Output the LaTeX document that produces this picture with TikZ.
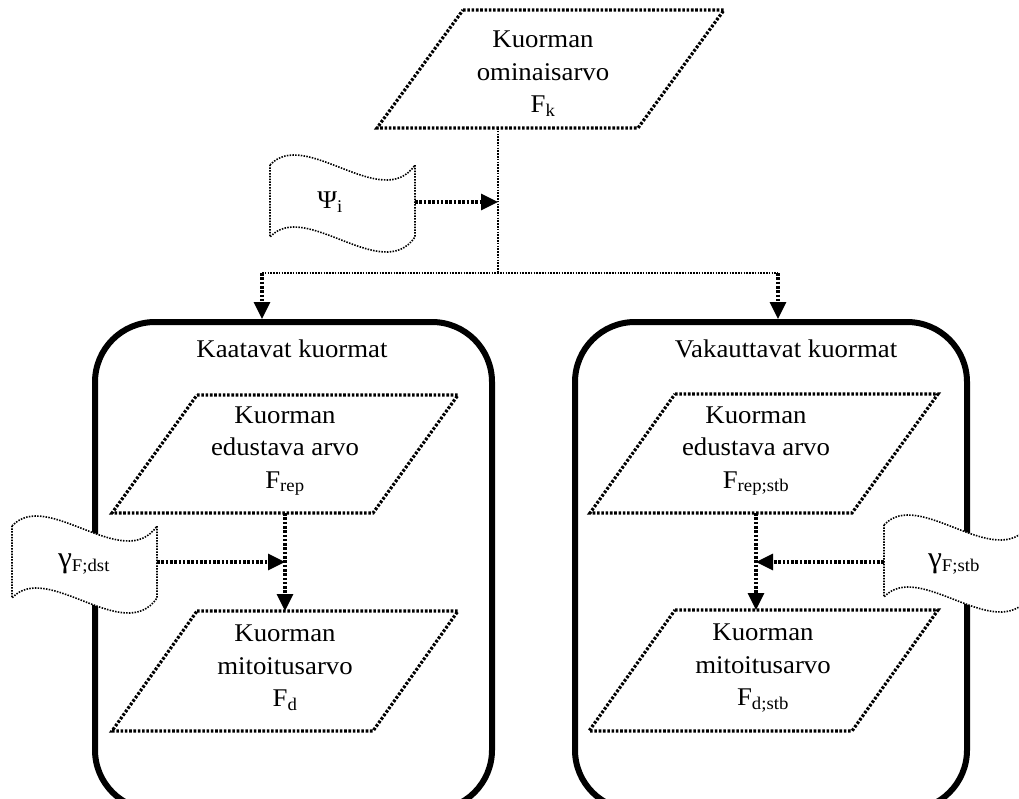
\documentclass[tikz,border=0pt]{standalone}
\usepackage{fontspec}
\setmainfont{Liberation Serif}[FakeStretch=1.05]
\usetikzlibrary{arrows.meta}
\tikzset{
  thickdot/.style={line width=3.2pt, dash pattern=on 2.6pt off 1.7pt},
  thindot/.style={line width=1.6pt, dash pattern=on 1.5pt off 1.3pt},
  flow/.style={thickdot, -{Triangle[length=17pt,width=16pt]}},
  bigbox/.style={line width=6pt, rounded corners=60pt},
  lbl/.style={align=center, font=\fontsize{25.5}{32.5}\selectfont, inner sep=0pt},
  pics/tapeshape/.style={code={
    \draw[thindot, fill=white] (0,0) .. controls (35,-38) and (112,48) .. (145,0)
      -- (145,72) .. controls (112,120) and (35,34) .. (0,72) -- cycle;}},
}
\begin{document}
\begin{tikzpicture}[x=1pt,y=-1pt]
\clip (0,0) rectangle (1019,798);
\fill[white] (0,0) rectangle (1019,798);

% outer groups
\draw[bigbox] (95,322) rectangle (492,810);
\draw[bigbox] (575,322) rectangle (967,810);
\node[lbl] (kaat) at (292,349) {Kaatavat kuormat};
\node[lbl] (vak) at (786,349) {Vakauttavat kuormat};

% top parallelogram
\draw[thickdot] (463,10) -- (724,10) -- (638,128) -- (377,128) -- cycle;
\node[lbl] (fk) at (543,74) {Kuorman\\ominaisarvo\\F\textsubscript{k}};

% left parallelograms
\draw[thickdot] (197,395) -- (458,395) -- (373,513) -- (112,513) -- cycle;
\node[lbl] (frep) at (285,451) {Kuorman\\edustava arvo\\F\textsubscript{rep}};
\draw[thickdot] (197,611) -- (458,611) -- (373,731) -- (112,731) -- cycle;
\node[lbl] (fd) at (285,668) {Kuorman\\mitoitusarvo\\F\textsubscript{d}};

% right parallelograms
\draw[thickdot] (675,394) -- (938,394) -- (852,513) -- (590,513) -- cycle;
\node[lbl] (frepstb) at (756,451) {Kuorman\\edustava arvo\\F\textsubscript{rep;stb}};
\draw[thickdot] (675,610) -- (938,610) -- (852,731) -- (589,731) -- cycle;
\node[lbl] (fdstb) at (763,668) {Kuorman\\mitoitusarvo\\F\textsubscript{d;stb}};

% tapes
\pic at (270,165) {tapeshape};
\node[lbl] (psi) at (330,202) {Ψ\textsubscript{i}};
\pic at (12,526) {tapeshape};
\node[lbl] (gdst) at (84,564) {{\fontsize{30}{32}\selectfont γ}\textsubscript{F;dst}};
\pic at (884,525) {tapeshape};
\node[lbl] (gstb) at (954,564) {{\fontsize{30}{32}\selectfont γ}\textsubscript{F;stb}};

% coordinates
\coordinate (topB) at (498,128);
\coordinate (split) at (498,273);
\coordinate (splitL) at (262,273);
\coordinate (splitR) at (778,273);
\coordinate (boxLtop) at (262,319);
\coordinate (boxRtop) at (778,319);
\coordinate (psiR) at (415,202);
\coordinate (repB) at (285,513);
\coordinate (dT) at (285,611);
\coordinate (gdstR) at (157,562);
\coordinate (repstbB) at (756,513);
\coordinate (dstbT) at (756,610);
\coordinate (gstbL) at (884,562);

% connectors
\draw[thindot] (topB) -- (split);
\draw[thindot] (splitL) -- (splitR);
\draw[flow] (psiR) -- (psiR -| topB);
\draw[flow] (splitL) -- (boxLtop);
\draw[flow] (splitR) -- (boxRtop);
\draw[flow] (repB) -- (dT);
\draw[flow] (gdstR) -- (gdstR -| repB);
\draw[flow] (repstbB) -- (dstbT);
\draw[flow] (gstbL) -- (gstbL -| repstbB);
\end{tikzpicture}
\end{document}
